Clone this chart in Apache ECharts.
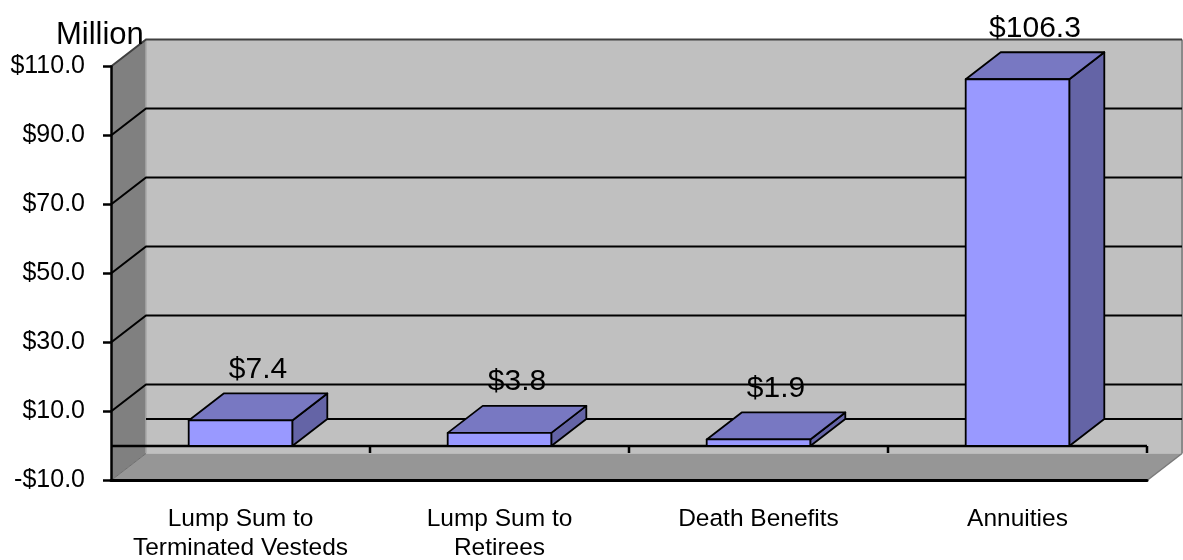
<!DOCTYPE html>
<html>
<head>
<meta charset="utf-8">
<style>
  html, body { margin: 0; padding: 0; background: #ffffff; }
  #chart { width: 1183px; height: 560px; }
</style>
<script src="https://cdn.jsdelivr.net/npm/echarts/dist/echarts.min.js"></script>
</head>
<body>
<div id="chart"></div>
<script>
// Benefit payouts by type, in millions of dollars
const categories = ['Lump Sum to\nTerminated Vesteds', 'Lump Sum to\nRetirees', 'Death Benefits', 'Annuities'];
const payouts = [7.4, 3.8, 1.9, 106.3];
const yTickValues = [-10, 10, 30, 50, 70, 90, 110];

// 3D look: offset from the front plane to the back wall
const DEPTH_X = 35;
const DEPTH_Y = -27;
const FONT = '"Liberation Sans", Arial, sans-serif';

const axisMin = yTickValues[0];
const axisMax = yTickValues[yTickValues.length - 1];
const axisStep = yTickValues[1] - yTickValues[0];

function money(v) {
  return (v < 0 ? '-$' : '$') + Math.abs(v).toFixed(1);
}

// Back wall, side wall, floor, gridlines and the zero line
function renderWalls(params, api) {
  const cs = params.coordSys;
  const gx = cs.x, gw = cs.width;
  const yOf = v => api.coord([0, v])[1];
  const yTop = yOf(axisMax), yBot = yOf(axisMin), y0 = yOf(0);
  const dx = DEPTH_X, dy = DEPTH_Y;
  const children = [];

  // back wall
  children.push({ type: 'rect', shape: { x: gx + dx, y: yTop + dy, width: gw, height: yBot - yTop },
    style: { fill: '#c0c0c0' } });
  // left side wall
  children.push({ type: 'polygon', shape: { points: [[gx, yTop], [gx + dx, yTop + dy], [gx + dx, yBot + dy], [gx, yBot]] },
    style: { fill: '#808080' } });
  // floor
  children.push({ type: 'polygon', shape: { points: [[gx, yBot], [gx + dx, yBot + dy], [gx + gw + dx, yBot + dy], [gx + gw, yBot]] },
    style: { fill: '#969696' } });
  // wall edges
  children.push({ type: 'line', shape: { x1: gx + dx, y1: yTop + dy, x2: gx + dx, y2: yBot + dy },
    style: { stroke: '#a8a8a8', lineWidth: 1.5 } });
  children.push({ type: 'line', shape: { x1: gx + gw + dx, y1: yTop + dy, x2: gx + gw + dx, y2: yBot + dy },
    style: { stroke: '#8a8a8a', lineWidth: 2 } });
  children.push({ type: 'line', shape: { x1: gx + gw, y1: yBot, x2: gx + gw + dx, y2: yBot + dy },
    style: { stroke: '#7a7a7a', lineWidth: 1.5 } });
  children.push({ type: 'line', shape: { x1: gx, y1: yBot, x2: gx + dx, y2: yBot + dy },
    style: { stroke: '#6e6e6e', lineWidth: 1 } });
  // top border of the walls
  children.push({ type: 'polyline', shape: { points: [[gx, yTop], [gx + dx, yTop + dy], [gx + gw + dx, yTop + dy]] },
    style: { stroke: '#404040', lineWidth: 2, fill: null } });

  // gridlines across side wall and back wall
  yTickValues.forEach(v => {
    if (v === axisMin || v === axisMax) return;
    const y = yOf(v);
    children.push({ type: 'polyline', shape: { points: [[gx, y], [gx + dx, y + dy], [gx + gw + dx, y + dy]] },
      style: { stroke: '#000', lineWidth: 2, fill: null } });
  });
  // zero line on the back wall
  children.push({ type: 'line', shape: { x1: gx + dx, y1: y0 + dy, x2: gx + gw + dx, y2: y0 + dy },
    style: { stroke: '#000', lineWidth: 2 } });

  // category axis at zero on the front plane, with ticks between categories
  children.push({ type: 'line', shape: { x1: gx, y1: y0, x2: gx + gw, y2: y0 },
    style: { stroke: '#000', lineWidth: 2.5 } });
  const n = categories.length;
  for (let k = 1; k <= n; k++) {
    const x = gx + k * gw / n;
    children.push({ type: 'line', shape: { x1: x, y1: y0, x2: x, y2: y0 + 7 },
      style: { stroke: '#000', lineWidth: 2.5 } });
  }
  return { type: 'group', children };
}

// 3D columns with their value labels
function renderBars(params, api) {
  const i = api.value(0);
  const v = api.value(1);
  const base = api.coord([i, 0]);
  const top = api.coord([i, v]);
  const w = api.size([1, 0])[0] * 0.4;
  const x0 = top[0] - w / 2, x1 = top[0] + w / 2;
  const yt = top[1], yb = base[1];
  const dx = DEPTH_X, dy = DEPTH_Y;
  const edge = { stroke: '#000', lineWidth: 1.8, lineJoin: 'round' };
  return {
    type: 'group',
    children: [
      { type: 'polygon', shape: { points: [[x1, yt], [x1 + dx, yt + dy], [x1 + dx, yb + dy], [x1, yb]] },
        style: Object.assign({ fill: '#6464a6' }, edge) },
      { type: 'polygon', shape: { points: [[x0, yt], [x0 + dx, yt + dy], [x1 + dx, yt + dy], [x1, yt]] },
        style: Object.assign({ fill: '#7878c2' }, edge) },
      { type: 'rect', shape: { x: x0, y: yt, width: w, height: yb - yt },
        style: Object.assign({ fill: '#9999ff' }, edge) },
      { type: 'text', silent: true,
        style: { text: money(v), x: top[0] + dx / 2, y: yt + dy - 9,
          align: 'center', verticalAlign: 'bottom', textAlign: 'center', textVerticalAlign: 'bottom',
          font: '30px ' + FONT, fill: '#000' } }
    ]
  };
}

const chart = echarts.init(document.getElementById('chart'), null, { renderer: 'canvas' });
chart.setOption({
  animation: false,
  backgroundColor: '#ffffff',
  title: {
    text: 'Million', left: 51, top: 15, padding: 5,
    textStyle: { fontSize: 31, fontWeight: 'normal', color: '#000', fontFamily: FONT }
  },
  grid: { left: 111, top: 66.5, width: 1036, height: 414, containLabel: false, outerBoundsMode: 'none' },
  xAxis: {
    type: 'category',
    data: categories,
    z: 5,
    axisLine: { show: true, onZero: false, lineStyle: { color: '#000', width: 3 } },
    axisTick: { show: false },
    splitLine: { show: false },
    axisLabel: { interval: 0, margin: 24, fontSize: 24.5, lineHeight: 29, color: '#000', fontFamily: FONT }
  },
  yAxis: {
    type: 'value',
    min: axisMin, max: axisMax, interval: axisStep,
    z: 5,
    axisLine: { show: true, lineStyle: { color: '#000', width: 2.5 } },
    axisTick: { show: true, length: 8, lineStyle: { color: '#000', width: 2.5 } },
    splitLine: { show: false },
    axisLabel: { margin: 26, fontSize: 25, color: '#000', fontFamily: FONT, formatter: money }
  },
  series: [
    { type: 'custom', z: 1, silent: true, renderItem: renderWalls, data: [[0, 0]] },
    { type: 'custom', z: 3, silent: true, renderItem: renderBars,
      data: payouts.map((v, i) => [i, v]) }
  ]
});
</script>
</body>
</html>
